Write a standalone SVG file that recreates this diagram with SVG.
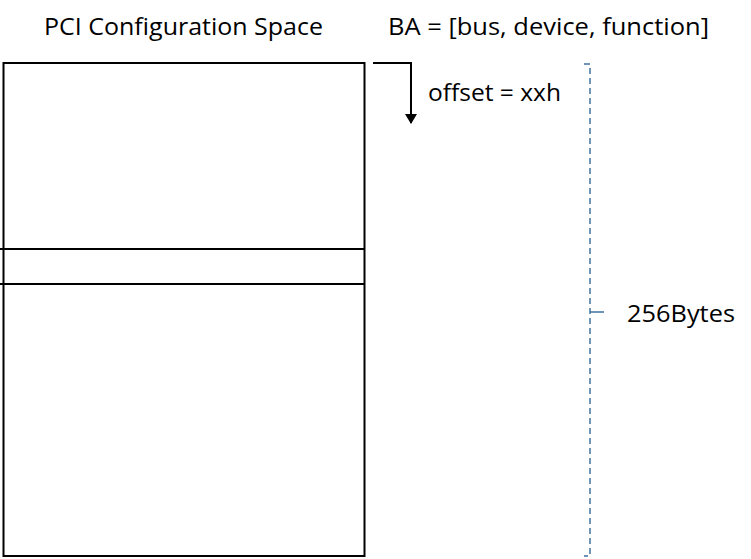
<svg xmlns="http://www.w3.org/2000/svg" width="751" height="559" viewBox="0 0 751 559">
<style>
text{font-family:"Open Sans","Liberation Sans",sans-serif;font-size:24px;fill:#000}
.blk{stroke:#000;stroke-width:2;fill:none}
.brace{stroke:#41719C;stroke-width:1.5;fill:none;stroke-dasharray:6,4}
.tick{stroke:#41719C;stroke-width:1.5;fill:none}
</style>
<defs>
<marker id="ah" markerWidth="10" markerHeight="12" refX="9" refY="6" orient="auto" markerUnits="userSpaceOnUse" viewBox="0 0 10 12">
<path d="M0,0 L10,6 L0,12 z" fill="#000"/>
</marker>
</defs>
<rect width="751" height="559" fill="#fff"/>
<g id="config-space">
<rect class="blk" x="3.5" y="63" width="361" height="493"/>
<line class="blk" x1="0" y1="249" x2="364.5" y2="249"/>
<line class="blk" x1="0" y1="284" x2="364.5" y2="284"/>
</g>
<g id="labels">
<text x="44" y="35" textLength="279" lengthAdjust="spacingAndGlyphs">PCI Configuration Space</text>
<text x="388" y="35" textLength="321" lengthAdjust="spacingAndGlyphs">BA = [bus, device, function]</text>
<text x="428" y="101" textLength="133" lengthAdjust="spacingAndGlyphs">offset = xxh</text>
<text x="627" y="322" textLength="108" lengthAdjust="spacingAndGlyphs">256Bytes</text>
</g>
<g id="connectors">
<path class="blk" d="M373,63 H411 V123" marker-end="url(#ah)"/>
<path class="brace" d="M584,64 H590 V556 H584"/>
<path class="tick" d="M590,312 H604"/>
</g>
</svg>
